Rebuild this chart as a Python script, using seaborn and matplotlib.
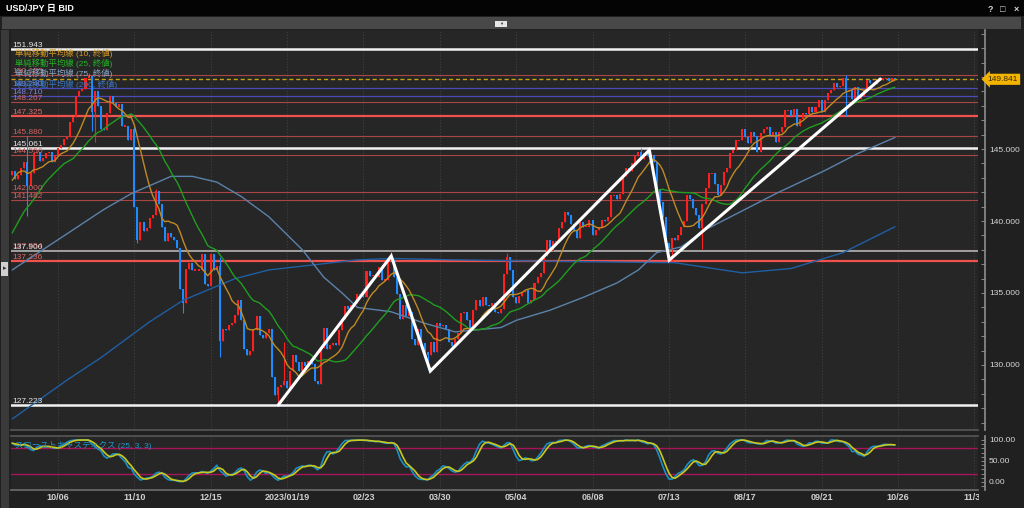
import numpy as np
import pandas as pd
import seaborn as sns
import matplotlib.pyplot as plt
from matplotlib.patches import Rectangle
from matplotlib.ticker import MultipleLocator

# ---------------------------------------------------------------- data
# closes before the visible window (2022-08-01 .. 09-14), only used to warm up the indicators
prior_closes = [131.6, 133.2, 133.8, 133.0, 135.0, 134.9, 135.1, 132.9, 133.0, 133.4,
                133.3, 134.2, 135.1, 135.9, 136.9, 137.5, 136.8, 137.1, 136.5, 137.7,
                138.7, 138.8, 138.9, 140.2, 140.2, 140.5, 142.8, 144.0, 144.1, 142.6,
                142.8, 144.6, 143.2]

# daily closes, bar 0 = 2022-09-15, one row per week (Mon..Fri)
closes = [143.5, 142.9,
          143.2, 143.7, 144.1, 142.4, 143.3,
          144.7, 144.8, 144.2, 144.4, 144.7,
          144.8, 144.1, 144.6, 145.1, 145.3,
          145.7, 145.8, 146.9, 147.2, 148.7,
          149.0, 149.2, 149.9, 150.1, 147.6,
          149.0, 148.0, 146.4, 146.3, 147.5,
          148.7, 148.2, 147.9, 148.1, 146.6,
          146.6, 145.6, 146.4, 141.0, 138.7,
          139.9, 139.3, 139.5, 140.2, 140.4,
          142.1, 141.2, 139.6, 138.6, 139.2,
          138.9, 138.7, 138.1, 135.3, 134.3,
          136.7, 137.1, 136.6, 136.6, 136.6,
          137.7, 135.6, 135.5, 137.7, 136.6,
          136.9, 131.7, 132.5, 132.4, 132.8,
          132.9, 133.5, 134.5, 133.1, 131.1,
          130.7, 131.0, 132.4, 133.4, 132.1,
          131.9, 132.2, 132.5, 129.2, 127.9,
          128.5, 128.6, 128.9, 128.4, 129.6,
          130.7, 130.2, 129.6, 130.2, 129.9,
          130.3, 130.1, 128.9, 128.7, 131.2,
          132.6, 131.1, 131.4, 131.5, 131.4,
          132.4, 133.2, 134.1, 133.9, 134.2,
          134.3, 134.9, 134.9, 134.7, 136.5,
          136.2, 136.2, 136.1, 136.8, 135.9,
          135.9, 137.2, 137.3, 136.1, 134.9,
          133.2, 134.2, 133.4, 133.7, 131.8,
          131.4, 132.5, 131.5, 130.9, 130.7,
          131.6, 130.9, 132.9, 132.7, 132.8,
          132.5, 131.6, 131.3, 131.8, 132.2,
          133.6, 133.7, 133.1, 132.6, 133.8,
          134.5, 134.1, 134.7, 134.2, 134.1,
          134.3, 133.7, 133.6, 133.9, 136.3,
          137.5, 136.6, 134.7, 134.3, 134.8,
          135.1, 135.2, 134.3, 134.5, 135.7,
          136.1, 136.4, 137.6, 138.7, 137.9,
          138.6, 138.6, 139.5, 139.9, 140.6,
          140.4, 139.8, 139.3, 138.8, 139.9,
          139.6, 139.6, 140.1, 139.0, 139.4,
          139.6, 140.1, 140.0, 140.3, 141.8,
          141.8, 141.5, 141.9, 143.1, 143.7,
          143.5, 144.0, 144.5, 144.8, 144.3,
          144.7, 144.5, 144.6, 144.1, 142.2,
          141.3, 140.3, 138.5, 138.1, 138.8,
          138.7, 139.0, 139.6, 140.0, 141.8,
          141.5, 140.9, 140.4, 139.5, 141.2,
          142.3, 143.3, 143.3, 142.6, 141.8,
          142.5, 143.4, 143.7, 144.7, 144.9,
          145.6, 145.6, 146.4, 145.8, 145.4,
          146.2, 145.9, 144.8, 146.1, 146.4,
          146.5, 145.9, 146.2, 145.5, 146.2,
          146.5, 147.7, 147.7, 147.3, 147.8,
          146.6, 147.1, 147.5, 147.4, 147.9,
          147.6, 147.9, 148.4, 147.6, 148.4,
          148.9, 149.1, 149.6, 149.3, 149.4,
          149.9, 149.0, 149.1, 148.5, 149.3,
          148.5, 148.7, 149.1, 149.8, 149.6,
          149.5, 149.8, 149.8, 149.9, 149.9,
          149.7, 149.9, 149.841]

# notable wicks (bar index -> price), other bars are drawn body only
wick_high = {5: 145.90, 25: 150.30, 40: 146.60, 47: 142.25, 68: 137.48, 89: 131.58,
             124: 137.91, 162: 137.77, 206: 145.07, 273: 150.16}
wick_low = {5: 140.35, 26: 146.23, 27: 145.50, 41: 138.47, 56: 133.62, 68: 130.58,
            87: 127.22, 136: 129.64, 216: 137.24, 226: 138.05, 273: 147.30}

# 75 / 200 day averages (bar index, price)
sma75_idx = [0, 20, 30, 39, 52, 59, 67, 75, 84, 95, 102, 108, 113, 124, 135, 145,
             160, 165, 176, 187, 198, 205, 211, 219, 227, 250, 266, 277, 289]
sma75_val = [136.6, 139.4, 140.8, 141.9, 143.1, 143.1, 142.7, 141.7, 140.3, 138.0, 136.1,
             135.0, 134.0, 133.7, 132.9, 132.3, 132.6, 133.1, 133.8, 134.7, 135.7, 136.6,
             137.8, 138.2, 139.4, 141.9, 143.5, 144.7, 145.8]
sma200_idx = [0, 18, 29, 45, 56, 73, 84, 113, 124, 145, 179, 217, 239, 255, 272, 289]
sma200_val = [126.25, 128.96, 130.5, 133.0, 134.5, 136.0, 136.6, 137.3, 137.4, 137.3,
              137.2, 137.1, 136.4, 136.7, 137.8, 139.6]

# hand drawn zigzag trend line (bar index, price)
trend_idx = [87.1, 124.1, 136.9, 208.6, 215.1, 284.2]
trend_val = [127.22, 137.57, 129.58, 144.93, 137.29, 149.86]

# horizontal levels
level_values = [151.943, 150.155, 149.240, 148.710, 148.267, 147.325, 145.880, 145.061,
                144.550, 142.000, 141.462, 137.954, 137.900, 137.236, 127.223]
level_kinds = ['white', 'thin', 'blue', 'blue', 'thin', 'red', 'thin', 'white',
               'thin', 'thin', 'thin', 'thin', 'gray', 'red', 'white']

tick_idx = [15, 40, 65, 90, 115, 140, 165, 190, 215, 240, 265, 290, 315]
tick_labels = ['10/06', '11/10', '12/15', '2023/01/19', '02/23', '03/30', '05/04',
               '06/08', '07/13', '08/17', '09/21', '10/26', '11/30']

legend_texts = ['単純移動平均線 (10, 終値)', '単純移動平均線 (25, 終値)',
                '単純移動平均線 (75, 終値)', '単純移動平均線 (200, 終値)']

# ---------------------------------------------------------------- styling
W, H = 1024, 508
BG = '#262626'
UP, DOWN = '#ff1f1f', '#1e8cff'
C10, C25, C75, C200 = '#c08a24', '#1f9e1f', '#5b82aa', '#1f5fa3'
LEVEL_STYLE = {  # line colour, width, label colour
    'white': ('#f2f2f2', 1.8, '#e4e4e4'),
    'red': ('#f0524e', 1.6, '#e06a66'),
    'thin': ('#a84646', 0.8, '#d06464'),
    'blue': ('#4a4ab8', 0.9, '#8080d8'),
    'gray': ('#a0a0a0', 1.4, '#e0e0e0'),
}

sns.set_theme(style="dark")
plt.rcParams['font.family'] = ['Liberation Sans', 'Noto Sans CJK JP', 'DejaVu Sans']


def px_box(x0, y0, x1, y1):
    """figure fraction box from pixel corners (y measured from the top)"""
    return [x0 / W, 1 - y1 / H, (x1 - x0) / W, (y1 - y0) / H]


def fig_rect(fig, x0, y0, x1, y1, color, z=-5):
    fig.add_artist(Rectangle((x0 / W, 1 - y1 / H), (x1 - x0) / W, (y1 - y0) / H,
                             transform=fig.transFigure, fc=color, ec='none', zorder=z))


# ---------------------------------------------------------------- bars + indicators
all_close = pd.Series(prior_closes + closes, dtype=float)
bars = pd.DataFrame({'idx': np.arange(len(all_close)) - len(prior_closes),
                     'close': all_close})
bars['open'] = bars['close'].shift(1).fillna(bars['close'])
bars['high'] = bars[['open', 'close']].max(axis=1)
bars['low'] = bars[['open', 'close']].min(axis=1)
for i, v in wick_high.items():
    bars.loc[bars['idx'] == i, 'high'] = v
for i, v in wick_low.items():
    bars.loc[bars['idx'] == i, 'low'] = v

bars['sma10'] = bars['close'].rolling(10).mean()
bars['sma25'] = bars['close'].rolling(25).mean()

hh = bars['high'].rolling(25).max()
ll = bars['low'].rolling(25).min()
fast_k = 100 * (bars['close'] - ll) / (hh - ll)
bars['slow_k'] = fast_k.rolling(3).mean()
bars['slow_d'] = bars['slow_k'].rolling(3).mean()

vis = bars[bars['idx'] >= 0].copy()
body_lo = vis[['open', 'close']].min(axis=1)
body_h = (vis['close'] - vis['open']).abs().clip(lower=0.08)
vis['body_lo'] = body_lo - (body_h - (vis['close'] - vis['open']).abs()) / 2
vis['body_h'] = body_h

# ---------------------------------------------------------------- figure
fig = plt.figure(figsize=(W / 100, H / 100), dpi=100, facecolor='#202020')

# window chrome
fig_rect(fig, 0, 0, W, 16, '#040404')
fig_rect(fig, 2, 17, 1021, 29, '#484848')
fig_rect(fig, 495, 21, 507, 27, '#e6e6e6', z=-4)
fig_rect(fig, 1, 30, 9, H, '#3a3a3a')
fig_rect(fig, 1, 262, 8, 276, '#cfcfcf', z=-4)
fig.text(6 / W, 1 - 8 / H, 'USD/JPY 日 BID', color='white', fontsize=6.5,
         fontweight='bold', va='center')
for xp, s in [(990, '?'), (1003, '□'), (1016, '×')]:
    fig.text(xp / W, 1 - 9 / H, s, color='#d8d8d8', fontsize=6.5, fontweight='bold',
             va='center', ha='center')
fig.text(501 / W, 1 - 24 / H, '▼', color='#333333', fontsize=3, ha='center', va='center')
fig.text(4.5 / W, 1 - 269 / H, '▸', color='#333333', fontsize=5, ha='center', va='center')

x_lim = (-0.39, 316.2)
ax = fig.add_axes(px_box(11, 30, 978, 430), facecolor=BG)
ax_s = fig.add_axes(px_box(11, 436, 978, 490), facecolor=BG)

# level lines + labels
for v, kind in zip(level_values, level_kinds):
    lc, lw, tc = LEVEL_STYLE[kind]
    ax.axhline(v, color=lc, lw=lw, zorder=2)
    ax.text(0.0015, v, f'{v:.3f}', color=tc, fontsize=6, va='bottom', ha='left',
            transform=ax.get_yaxis_transform(), zorder=7)

last_price = closes[-1]
ax.axhline(last_price, color='#c8a010', lw=1.0, ls=(0, (3, 2)), zorder=2)

# candles
up = vis['close'] >= vis['open']
for mask, col in [(up, UP), (~up, DOWN)]:
    d = vis[mask]
    ax.vlines(d['idx'], d['low'], d['high'], color=col, lw=0.8, zorder=4)
    ax.bar(d['idx'], d['body_h'], bottom=d['body_lo'], width=0.66, color=col,
           lw=0, zorder=4)

# moving averages
sns.lineplot(x=sma200_idx, y=sma200_val, ax=ax, color=C200, lw=1.0, zorder=5)
sns.lineplot(x=sma75_idx, y=sma75_val, ax=ax, color=C75, lw=1.0, zorder=5)
sns.lineplot(x=vis['idx'], y=vis['sma25'], ax=ax, color=C25, lw=1.0, zorder=5)
sns.lineplot(x=vis['idx'], y=vis['sma10'], ax=ax, color=C10, lw=1.0, zorder=5)

# trend zigzag
ax.plot(trend_idx, trend_val, color='white', lw=2.2, solid_joinstyle='miter', zorder=6)

# legend of the averages
for k, (txt, col) in enumerate(zip(legend_texts, ['#d49a22', '#22b422', '#8aa8c8', '#3a78c8'])):
    ax.text(15 / W, 1 - (53 + 10.3 * k) / H, txt, color=col, fontsize=6, va='center',
            transform=fig.transFigure, zorder=8)

# current price tag
ax.annotate(f'{last_price:.3f}', xy=(1.0, last_price), xycoords=ax.get_yaxis_transform(),
            xytext=(7, 0), textcoords='offset points', ha='left', va='center',
            fontsize=6, color='#3a2800', annotation_clip=False, zorder=9,
            bbox=dict(boxstyle='larrow,pad=0.25', fc='#f2b400', ec='none'))

# stochastics
ax_s.axhline(80, color='#a8145a', lw=1.0, zorder=2)
ax_s.axhline(20, color='#a8145a', lw=1.0, zorder=2)
sns.lineplot(x=vis['idx'], y=vis['slow_k'], ax=ax_s, color='#1a8fc8', lw=1.2, zorder=4)
sns.lineplot(x=vis['idx'], y=vis['slow_d'], ax=ax_s, color='#c8c81e', lw=1.2, zorder=5)
ax_s.text(15 / W, 1 - 446 / H, 'スローストキャスティクス (25, 3, 3)', color='#1e96c8',
          fontsize=6, va='center', transform=fig.transFigure, zorder=8)

# ---------------------------------------------------------------- axes cosmetics
for a in (ax, ax_s):
    a.set_xlim(*x_lim)
    a.set_xlabel('')
    a.set_ylabel('')
    a.set_xticks(tick_idx)
    a.xaxis.set_minor_locator(MultipleLocator(5))
    a.grid(False)
    a.grid(axis='x', which='major', ls=':', color='#404040', lw=0.8)
    a.yaxis.tick_right()
    for s in ('left', 'top', 'bottom', 'right'):
        a.spines[s].set_visible(False)
    a.spines['right'].set_visible(True)
    a.spines['right'].set_position(('outward', 5))
    a.spines['right'].set_color('#8a8a8a')
    a.tick_params(axis='y', which='both', direction='in', color='#8a8a8a', length=3,
                  width=0.7, labelsize=6, labelcolor='#d8d8d8', pad=3)

ax.set_ylim(125.486, 153.264)
ax.set_yticks([130, 135, 140, 145])
ax.set_yticklabels(['130.000', '135.000', '140.000', '145.000'])
ax.yaxis.set_minor_locator(MultipleLocator(1))
ax.tick_params(axis='x', which='both', length=0, labelbottom=False)
ax.spines['bottom'].set_visible(True)
ax.spines['bottom'].set_color('#555555')

ax_s.set_ylim(-19.05, 109.5)
ax_s.set_yticks([0, 50, 100])
ax_s.set_yticklabels(['0.00', '50.00', '100.00'])
ax_s.yaxis.set_minor_locator(MultipleLocator(10))
ax_s.set_xticklabels(tick_labels)
ax_s.spines['bottom'].set_visible(True)
ax_s.spines['bottom'].set_color('#6a6a6a')
ax_s.spines['top'].set_visible(True)
ax_s.spines['top'].set_color('#555555')
ax_s.tick_params(axis='x', which='both', direction='in', color='#7a7a7a', length=3,
                 width=0.7, labelsize=6.5, labelcolor='#d0d0d0', pad=2.5)
for t in ax_s.get_xticklabels():
    t.set_fontweight('bold')

# the last date label runs under the price scale
fig_rect(fig, 979, 491, W, H, '#202020', z=5)

fig.savefig('out.png', dpi=100, facecolor=fig.get_facecolor())
